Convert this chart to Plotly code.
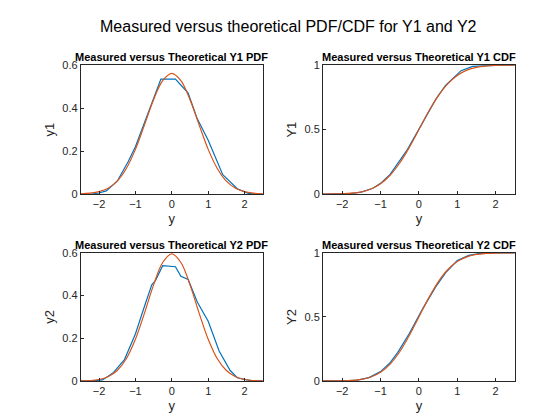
import plotly.graph_objects as go

# theoretical curves
xt = [-2.5, -2.25, -2.0, -1.75, -1.5, -1.25, -1.0, -0.75, -0.5, -0.25, 0.0,
      0.25, 0.5, 0.75, 1.0, 1.25, 1.5, 1.75, 2.0, 2.25, 2.5]
pdf1_theo = [0.001, 0.004, 0.011, 0.027, 0.060, 0.119, 0.208, 0.322, 0.439, 0.528, 0.562,
             0.528, 0.439, 0.322, 0.208, 0.119, 0.060, 0.027, 0.011, 0.004, 0.001]
pdf2_theo = [0.0005, 0.002, 0.007, 0.020, 0.049, 0.104, 0.195, 0.318, 0.450, 0.555, 0.595,
             0.555, 0.450, 0.318, 0.195, 0.104, 0.049, 0.020, 0.007, 0.002, 0.0005]
cdf1_theo = [0.0002, 0.0008, 0.0024, 0.007, 0.017, 0.039, 0.080, 0.146, 0.241, 0.362, 0.5,
             0.638, 0.759, 0.854, 0.920, 0.961, 0.983, 0.993, 0.9976, 0.9992, 0.9998]
cdf2_theo = [0.0001, 0.0004, 0.0014, 0.0045, 0.012, 0.031, 0.068, 0.132, 0.228, 0.355, 0.5,
             0.645, 0.772, 0.868, 0.932, 0.969, 0.988, 0.9955, 0.9986, 0.9996, 0.9999]

# measured curves
x1m = [-2.5, -2.2, -2.0, -1.8, -1.5, -1.2, -1.0, -0.75, -0.3, 0.0, 0.1, 0.45, 0.7, 1.0,
       1.1, 1.4, 1.8, 2.1, 2.3, 2.5]
pdf1_meas = [0, 0, 0.005, 0.015, 0.06, 0.15, 0.22, 0.33, 0.535, 0.535, 0.535, 0.47, 0.35,
             0.25, 0.21, 0.09, 0.025, 0.003, 0, 0]
x2m = [-2.5, -2.2, -1.9, -1.6, -1.3, -1.0, -0.75, -0.55, -0.45, -0.25, 0.1, 0.25, 0.45,
       0.7, 1.0, 1.3, 1.6, 1.8, 2.2, 2.5]
pdf2_meas = [0, 0, 0.005, 0.04, 0.1, 0.22, 0.35, 0.45, 0.47, 0.54, 0.535, 0.49, 0.475,
             0.37, 0.28, 0.14, 0.05, 0.015, 0, 0]
cdf1_meas = [0.0, 0.0, 0.001, 0.003, 0.015, 0.045, 0.083, 0.152, 0.345, 0.505, 0.56, 0.74,
             0.845, 0.935, 0.957, 0.99, 0.998, 1.0, 1.0, 1.0]
cdf2_meas = [0.0, 0.0, 0.001, 0.007, 0.026, 0.073, 0.143, 0.223, 0.27, 0.37, 0.565, 0.645,
             0.74, 0.846, 0.94, 0.98, 0.996, 0.9995, 1.0, 1.0]

blue = "#0072BD"
orange = "#D95319"
font = "Liberation Sans, Arial, sans-serif"

panels = [
    ("x", "y", "Measured versus Theoretical Y1 PDF", "y1", x1m, pdf1_meas, pdf1_theo, [0, 0.6], [0, 0.2, 0.4, 0.6]),
    ("x2", "y2", "Measured versus Theoretical Y1 CDF", "Y1", x1m, cdf1_meas, cdf1_theo, [0, 1], [0, 0.5, 1]),
    ("x3", "y3", "Measured versus Theoretical Y2 PDF", "y2", x2m, pdf2_meas, pdf2_theo, [0, 0.6], [0, 0.2, 0.4, 0.6]),
    ("x4", "y4", "Measured versus Theoretical Y2 CDF", "Y2", x2m, cdf2_meas, cdf2_theo, [0, 1], [0, 0.5, 1]),
]
xdom = [[0.13, 0.455], [0.5625, 0.905], [0.13, 0.455], [0.5625, 0.905]]
ydom = [[0.557, 0.864], [0.557, 0.864], [0.112, 0.417], [0.112, 0.417]]

fig = go.Figure()
layout = {}
annotations = [dict(text="Measured versus theoretical PDF/CDF for Y1 and Y2", x=0.5, xanchor="center",
                    y=0.957, yanchor="middle", xref="paper", yref="paper", showarrow=False,
                    font=dict(size=16, color="black"))]
for i, (xa, ya, title, ylab, xm, meas, theo, yr, yt) in enumerate(panels):
    fig.add_trace(go.Scatter(x=xm, y=meas, mode="lines", line=dict(color=blue, width=1.2),
                             xaxis=xa, yaxis=ya, showlegend=False))
    fig.add_trace(go.Scatter(x=xt, y=theo, mode="lines", line=dict(color=orange, width=1.2, shape="spline"),
                             xaxis=xa, yaxis=ya, showlegend=False))
    k = "" if i == 0 else str(i + 1)
    common = dict(showline=True, mirror=True, linecolor="#262626", linewidth=1, ticks="inside",
                  ticklen=3, tickcolor="#262626", showgrid=False, zeroline=False, automargin=False,
                  tickfont=dict(size=11, color="#262626"))
    layout["xaxis" + k] = dict(domain=xdom[i], range=[-2.5, 2.5], tickvals=[-2, -1, 0, 1, 2],
                               anchor=ya, title=dict(text="y", standoff=4, font=dict(size=13)), **common)
    layout["yaxis" + k] = dict(domain=ydom[i], range=yr, tickvals=yt, anchor=xa,
                               title=dict(text=ylab, standoff=4, font=dict(size=13)), **common)
    annotations.append(dict(text="<b>" + title + "</b>", x=0.5, xanchor="center", y=1.0,
                            xref=xa + " domain", yref=ya + " domain", yanchor="bottom",
                            showarrow=False, font=dict(size=11, color="black")))

fig.update_layout(**layout)
fig.update_layout(width=560, height=420, margin=dict(l=0, r=0, t=0, b=0, autoexpand=False),
                  paper_bgcolor="white", plot_bgcolor="white",
                  font=dict(family=font, color="#262626"), annotations=annotations)
fig.write_html("out.html")
